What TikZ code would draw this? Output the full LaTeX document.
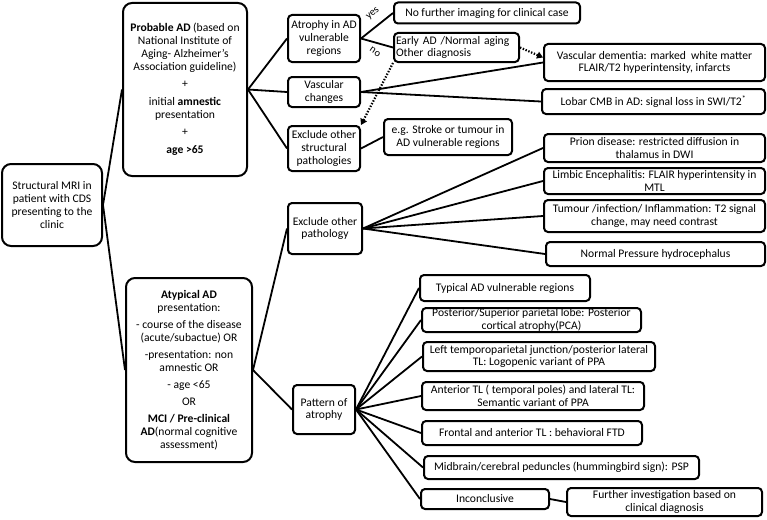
\documentclass[tikz,border=0pt]{standalone}
\usepackage{fontspec}
\setmainfont{Carlito}
\usetikzlibrary{arrows.meta}
\begin{document}
\begin{tikzpicture}[x=1pt,y=-1pt,
  box/.style={draw, line width=2pt, rounded corners=4pt, align=center, inner sep=0pt,
    font=\fontsize{11.6}{12.7}\selectfont, fill=white},
  bigbox/.style={box, rounded corners=9pt},
  conn/.style={line width=1.8pt},
  dotarrow/.style={line width=2.2pt, dash pattern=on 1.4pt off 1.6pt, -{Triangle[length=6pt,width=7pt]}},
  lab/.style={font=\fontsize{10.5}{11}\selectfont, inner sep=0.5pt}
]
\useasboundingbox[fill=white] (0,0) rectangle (767,519);

% column 1
\node[bigbox, minimum width=100, minimum height=82] (mri) at (52,205)
  {Structural MRI in\\ patient with CDS\\ presenting to the\\ clinic};

% column 2
\node[bigbox, minimum width=124, minimum height=173] (prob) at (185,89.5)
  {\textbf{Probable AD} (based on\\ National Institute of\\ Aging- Alzheimer's\\ Association guideline)\\[5pt] +\\[5pt] initial \textbf{amnestic}\\ presentation\\[5pt] +\\[5pt] \textbf{age >65}};
\node[bigbox, minimum width=126, minimum height=184] (atyp) at (189,370)
  {\textbf{Atypical AD}\\ presentation:\\[4.5pt] - course of the disease\\ (acute/subactue) OR\\[4.5pt] -presentation: non\\ amnestic OR\\[4.5pt] - age <65\\[4.5pt] OR\\[4.5pt] \textbf{MCI / Pre-clinical}\\ \textbf{AD}(normal cognitive\\ assessment)};

% column 3
\node[box, minimum width=72, minimum height=47] (atro) at (324,38.5) {Atrophy in AD\\ vulnerable\\ regions};
\node[box, minimum width=72, minimum height=30] (vasc) at (324,92) {Vascular\\ changes};
\node[box, minimum width=72, minimum height=45] (exstr) at (324,148.5) {Exclude other\\ structural\\ pathologies};
\node[box, minimum width=74, minimum height=51] (expat) at (325,228.5) {Exclude other\\ pathology};
\node[box, minimum width=62, minimum height=49] (patt) at (324,409.5) {Pattern of\\ atrophy};

% top right
\node[box, minimum width=186, minimum height=21] (nofur) at (487,13) {No further imaging for clinical case};
\node[box, minimum width=125, minimum height=29, align=left, text width=121, inner xsep=2pt] (early) at (456.5,47.5) {Early AD /Normal aging\\ Other diagnosis};
\node[box, minimum width=128, minimum height=36] (stroke) at (448,137) {e.g. Stroke or tumour in\\ AD vulnerable regions};
\node[box, minimum width=221, minimum height=37] (vdem) at (654.5,62.5) {Vascular dementia: marked\ \ white matter\\ FLAIR/T2 hyperintensity, infarcts};
\node[box, minimum width=223, minimum height=25] (cmb) at (653.5,101.5) {Lobar CMB in AD: signal loss in SWI/T2\textsuperscript{*}};

% exclude other pathology targets
\node[box, minimum width=221, minimum height=28] (prion) at (654.5,148) {Prion disease: restricted diffusion in\\ thalamus in DWI};
\node[box, minimum width=221, minimum height=26] (limbic) at (654.5,181) {Limbic Encephalitis: FLAIR hyperintensity in\\ MTL};
\node[box, minimum width=221, minimum height=32] (tumour) at (654.5,216) {Tumour /infection/ Inflammation: T2 signal\\ change, may need contrast};
\node[box, minimum width=219, minimum height=24] (nph) at (655.5,254) {Normal Pressure hydrocephalus};

% pattern of atrophy targets
\node[box, minimum width=170, minimum height=26] (typ) at (505,288) {Typical AD vulnerable regions};
\node[box, minimum width=219, minimum height=24] (post) at (531.5,320) {Posterior/Superior parietal lobe: Posterior\\ cortical atrophy(PCA)};
\node[box, minimum width=232, minimum height=29] (left) at (539,356.5) {Left temporoparietal junction/posterior lateral\\ TL: Logopenic variant of PPA};
\node[box, minimum width=222, minimum height=28] (ant) at (533,396) {Anterior TL ( temporal poles) and lateral TL:\\ Semantic variant of PPA};
\node[box, minimum width=220, minimum height=24] (front) at (532,433) {Frontal and anterior TL : behavioral FTD};
\node[box, minimum width=275, minimum height=23] (mid) at (561.5,467.5) {Midbrain/cerebral peduncles (hummingbird sign): PSP};
\node[box, minimum width=128, minimum height=20] (inc) at (485,499) {Inconclusive};
\node[box, minimum width=195, minimum height=28] (furth) at (664.5,502) {Further investigation based on\\ clinical diagnosis};

% connectors
\draw[conn] (mri.east) -- (prob.west);
\draw[conn] (mri.east) -- (atyp.west);
\draw[conn] (prob.east) -- (atro.west);
\draw[conn] (prob.east) -- (vasc.west);
\draw[conn] (prob.east) -- (exstr.west);
\draw[conn] (atro.east) -- (nofur.west);
\draw[conn] (atro.east) -- (early.west);
\node[lab, rotate=40] (yes) at (373,14) {yes};
\node[lab, rotate=-35] (no) at (375,52) {no};
\draw[conn] (vasc.east) -- (vdem.west);
\draw[conn] (vasc.east) -- (cmb.west);
\draw[conn] (exstr.east) -- (stroke.west);
\draw[dotarrow] (early.east) -- ([yshift=5pt]vdem.west);
\draw[dotarrow] (early.south west) -- (exstr.north east);
\draw[conn] (atyp.east) -- (expat.west);
\draw[conn] (atyp.east) -- (patt.west);
\foreach \t in {prion,limbic,tumour,nph} \draw[conn] (expat.east) -- (\t.west);
\foreach \t in {typ,post,left,ant,front,mid,inc} \draw[conn] (patt.east) -- (\t.west);
\draw[conn] (inc.east) -- (furth.west);
\end{tikzpicture}
\end{document}
